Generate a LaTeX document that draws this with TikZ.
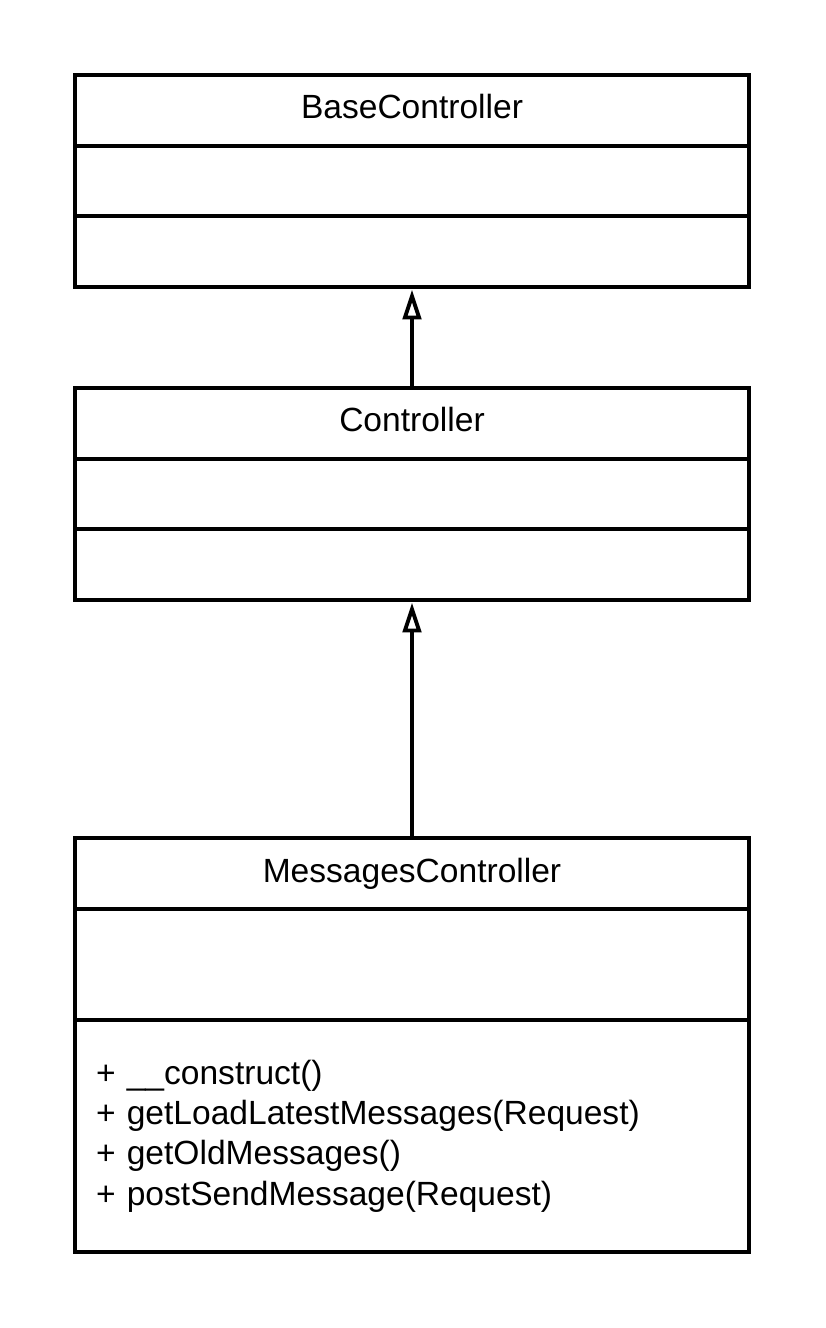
\documentclass[tikz,border=0pt]{standalone}
\usepackage{fontspec}
\setmainfont{Liberation Sans}
\usetikzlibrary{positioning,arrows.meta}

\begin{document}
\begin{tikzpicture}[x=0.02cm,y=-0.02cm,
  part/.style={draw,line width=1.8pt,minimum width=13.48cm,outer sep=0pt,inner sep=0pt,font=\fontsize{19.1}{23}\selectfont},
  title/.style={part,minimum height=1.42cm,text height=0.5cm,text depth=0.16cm},
  inherit/.style={line width=2.2pt,-{Triangle[open,length=17pt,width=10.5pt]},shorten >=1.5pt}]
\useasboundingbox (0,0) rectangle (825,1328);
\node[title,anchor=north] (basename) at (412,75) {BaseController};
\node[part,minimum height=1.40cm,below=0pt of basename] (baseattr) {};
\node[part,minimum height=1.42cm,below=0pt of baseattr] (baseops) {};
\node[title,anchor=north] (ctrlname) at (412,388) {Controller};
\node[part,minimum height=1.40cm,below=0pt of ctrlname] (ctrlattr) {};
\node[part,minimum height=1.42cm,below=0pt of ctrlattr] (ctrlops) {};
\node[title,anchor=north] (msgname) at (412,838) {MessagesController};
\node[part,minimum height=2.22cm,below=0pt of msgname] (msgattr) {};
\node[part,minimum height=4.64cm,below=0pt of msgattr,align=left,text width=12.64cm,inner xsep=0.42cm] (msgops) {+ \_\_construct()\\+ getLoadLatestMessages(Request)\\+ getOldMessages()\\+ postSendMessage(Request)};
\draw[inherit] (ctrlname.north) -- (baseops.south);
\draw[inherit] (msgname.north) -- (ctrlops.south);
\end{tikzpicture}
\end{document}
